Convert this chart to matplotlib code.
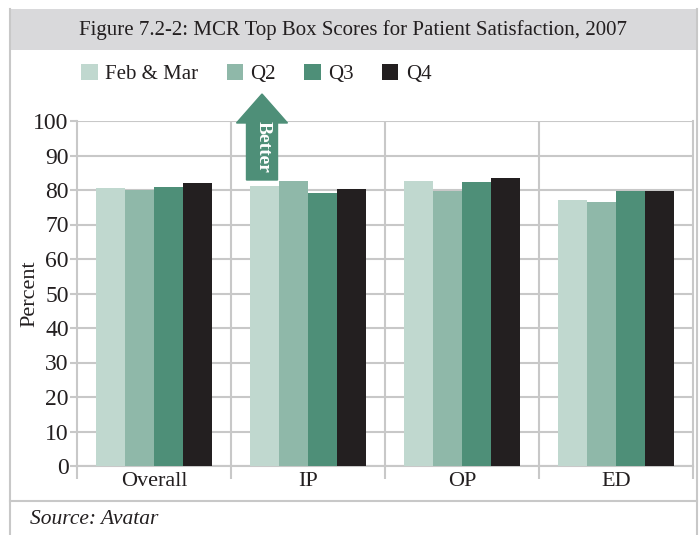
import numpy as np
import matplotlib.pyplot as plt
from matplotlib.patches import Rectangle, FancyArrow
from matplotlib.lines import Line2D

plt.rcParams['font.family'] = ['Liberation Serif', 'DejaVu Serif']

categories = ['Overall', 'IP', 'OP', 'ED']
series = ['Feb & Mar', 'Q2', 'Q3', 'Q4']
values = {
    'Feb & Mar': [80.5, 81.2, 82.6, 77.1],
    'Q2': [80.0, 82.6, 79.7, 76.5],
    'Q3': [80.8, 79.1, 82.3, 79.7],
    'Q4': [82.0, 80.3, 83.5, 79.7],
}
colors = ['#c0d8cf', '#8fb8a9', '#4e8f78', '#231f20']
yticks = [0, 10, 20, 30, 40, 50, 60, 70, 80, 90, 100]

W, H = 699, 535
fig = plt.figure(figsize=(W / 100, H / 100), dpi=100)

def fx(px):
    return px / W

def fy(py):
    return 1 - py / H

# frame, title band, source row
grid_c = '#c8c8c8'
txt_c = '#231f20'
fig.patches.append(Rectangle((fx(10), fy(50)), fx(687), 41 / H, transform=fig.transFigure,
                             facecolor='#d9d9db', edgecolor='none', zorder=0))
fig.lines.append(Line2D([fx(10), fx(10)], [fy(9), 0], transform=fig.transFigure, color=grid_c, lw=1.5))
fig.lines.append(Line2D([fx(697), fx(697)], [fy(9), 0], transform=fig.transFigure, color=grid_c, lw=1.5))
fig.lines.append(Line2D([fx(10), fx(697)], [fy(501), fy(501)], transform=fig.transFigure, color=grid_c, lw=1.5))
fig.text(fx(353), fy(30), 'Figure 7.2-2: MCR Top Box Scores for Patient Satisfaction, 2007',
         ha='center', va='center', fontsize=15, color=txt_c)
fig.text(fx(30), fy(520), 'Source: Avatar', ha='left', va='center', fontsize=15.5,
         style='italic', color=txt_c)
fig.text(fx(30), fy(294), 'Percent', rotation=90, ha='center', va='center', fontsize=16,
         color=txt_c)

ax = fig.add_axes([fx(77), fy(466), fx(693 - 77), (466 - 121) / H])
x = np.arange(len(categories))
bw = 0.1875
for i, s in enumerate(series):
    ax.bar(x + (i - 1.5) * bw, values[s], bw, color=colors[i], label=s, zorder=3)

ax.set_xlim(-0.5, len(categories) - 0.5)
ax.set_ylim(0, 100)
ax.set_yticks(yticks)
ax.set_yticklabels([str(t) for t in yticks], fontsize=17, color=txt_c)
ax.yaxis.grid(True, color=grid_c, lw=1.5, zorder=0)
for b in np.arange(0.5, len(categories) - 0.5, 1):
    ax.axvline(b, color=grid_c, lw=1.5, zorder=0)
ax.set_xticks(np.arange(-0.5, len(categories) + 0.5, 1))
ax.set_xticklabels([])
ax.set_xticks(x, minor=True)
ax.set_xticklabels(categories, minor=True, fontsize=16, color=txt_c)
ax.tick_params(axis='x', which='major', length=9, color=grid_c, width=1.5)
ax.tick_params(axis='x', which='minor', length=0, pad=4)
ax.tick_params(axis='y', length=5, color=grid_c, width=1.5, pad=1)
for side in ['left', 'bottom', 'right']:
    ax.spines[side].set_color(grid_c)
    ax.spines[side].set_linewidth(1.5)
ax.spines['top'].set_visible(False)

# legend
ax.legend(loc='center left', bbox_to_anchor=(fx(73), fy(74)), bbox_transform=fig.transFigure,
          ncol=4, frameon=False, fontsize=15, handlelength=0.8, handleheight=0.85,
          handletextpad=0.35, columnspacing=1.35, borderaxespad=0, labelcolor=txt_c)

# "Better" arrow
arr = FancyArrow(fx(262), fy(180), 0, (180 - 94) / H, width=fx(31), head_width=fx(51),
                 head_length=29 / H, length_includes_head=True, transform=fig.transFigure,
                 color='#4e8f78', zorder=5)
fig.patches.append(arr)
fig.text(fx(263), fy(147), 'Better', rotation=-90, ha='center', va='center', fontsize=14,
         fontweight='bold', color='white', zorder=6)

fig.savefig('out.png', dpi=100)
